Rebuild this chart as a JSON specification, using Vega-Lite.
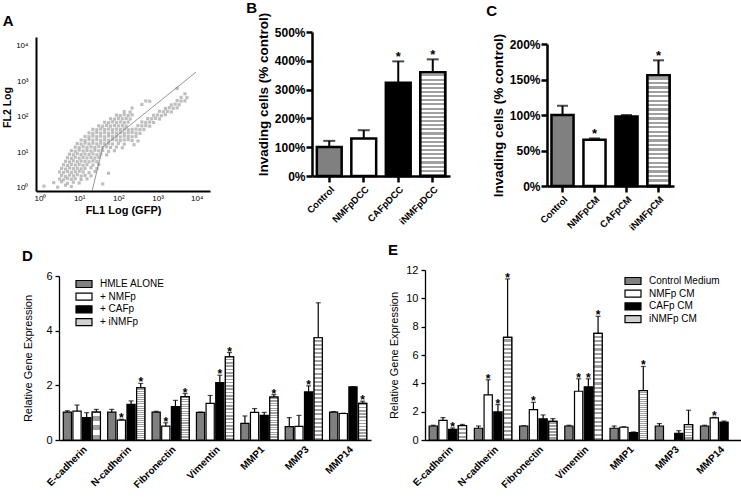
{
  "$schema": "https://vega.github.io/schema/vega-lite/v6.json",
  "background": "white",
  "padding": {"left": 2, "top": 1, "right": 0, "bottom": 0},
  "config": {
    "view": {"stroke": null},
    "font": "Liberation Sans",
    "axis": {"labelColor": "black", "titleColor": "black", "domainColor": "black", "tickColor": "black", "grid": false, "labelFlush": false, "labelOverlap": false},
    "title": {"anchor": "start", "frame": "bounds", "fontSize": 15, "fontWeight": "bold", "color": "black"}
  },
  "resolve": {"scale": {"x": "independent", "y": "independent", "xOffset": "independent", "fill": "independent"}, "legend": {"fill": "independent"}, "axis": {"x": "independent", "y": "independent"}},
  "spacing": 11,
  "vconcat": [
    {
      "spacing": 36,
      "resolve": {"scale": {"x": "independent", "y": "independent", "xOffset": "independent", "fill": "independent"}, "legend": {"fill": "independent"}, "axis": {"x": "independent", "y": "independent"}},
      "hconcat": [
        {
          "width": 174,
          "height": 159,
          "title": {"text": "A", "offset": 3},
          "layer": [
            {
              "data": {"values": [
                {"fl1":1.26,"fl2":1.12},{"fl1":2.82,"fl2":1.05},{"fl1":4.47,"fl2":1.2},{"fl1":6.31,"fl2":1.1},
                {"fl1":2.24,"fl2":1.41},{"fl1":3.55,"fl2":1.5},{"fl1":5.01,"fl2":1.35},{"fl1":7.08,"fl2":1.45},{"fl1":10,"fl2":1.38},{"fl1":39.8,"fl2":1.3},
                {"fl1":3.16,"fl2":1.78},{"fl1":3.98,"fl2":1.7},{"fl1":5.01,"fl2":1.85},{"fl1":6.31,"fl2":1.75},{"fl1":7.94,"fl2":1.82},{"fl1":11.2,"fl2":1.72},{"fl1":15.8,"fl2":1.8},
                {"fl1":3.55,"fl2":2.24},{"fl1":4.47,"fl2":2.1},{"fl1":5.62,"fl2":2.3},{"fl1":7.08,"fl2":2.2},{"fl1":8.91,"fl2":2.35},{"fl1":11.2,"fl2":2.15},{"fl1":14.1,"fl2":2.25},{"fl1":20,"fl2":2.2},
                {"fl1":3.16,"fl2":2.82},{"fl1":3.98,"fl2":2.7},{"fl1":5.01,"fl2":2.9},{"fl1":6.31,"fl2":2.75},{"fl1":7.94,"fl2":2.85},{"fl1":10,"fl2":2.95},{"fl1":12.6,"fl2":2.8},{"fl1":17.8,"fl2":2.7},{"fl1":25.1,"fl2":2.9},{"fl1":56.2,"fl2":2.6},
                {"fl1":3.55,"fl2":3.55},{"fl1":4.47,"fl2":3.4},{"fl1":5.62,"fl2":3.65},{"fl1":7.08,"fl2":3.5},{"fl1":8.91,"fl2":3.6},{"fl1":11.2,"fl2":3.45},{"fl1":14.1,"fl2":3.55},{"fl1":20,"fl2":3.7},{"fl1":28.2,"fl2":3.5},
                {"fl1":3.98,"fl2":4.47},{"fl1":5.01,"fl2":4.3},{"fl1":6.31,"fl2":4.6},{"fl1":7.94,"fl2":4.4},{"fl1":10,"fl2":4.55},{"fl1":12.6,"fl2":4.35},{"fl1":15.8,"fl2":4.5},{"fl1":22.4,"fl2":4.4},{"fl1":31.6,"fl2":4.6},
                {"fl1":4.47,"fl2":5.62},{"fl1":5.62,"fl2":5.4},{"fl1":7.08,"fl2":5.8},{"fl1":8.91,"fl2":5.5},{"fl1":11.2,"fl2":5.7},{"fl1":14.1,"fl2":5.6},{"fl1":17.8,"fl2":5.45},{"fl1":22.4,"fl2":5.75},{"fl1":28.2,"fl2":5.5},
                {"fl1":5.01,"fl2":7.08},{"fl1":6.31,"fl2":6.8},{"fl1":7.94,"fl2":7.3},{"fl1":10,"fl2":6.9},{"fl1":12.6,"fl2":7.2},{"fl1":15.8,"fl2":7.0},{"fl1":20,"fl2":7.15},{"fl1":25.1,"fl2":6.9},{"fl1":31.6,"fl2":7.25},
                {"fl1":5.62,"fl2":8.91},{"fl1":7.08,"fl2":8.6},{"fl1":8.91,"fl2":9.2},{"fl1":11.2,"fl2":8.7},{"fl1":14.1,"fl2":9.0},{"fl1":17.8,"fl2":8.8},{"fl1":22.4,"fl2":9.1},{"fl1":28.2,"fl2":8.6},{"fl1":35.5,"fl2":9.0},{"fl1":50.1,"fl2":8.5},
                {"fl1":6.31,"fl2":11.2},{"fl1":7.94,"fl2":10.8},{"fl1":10,"fl2":11.6},{"fl1":12.6,"fl2":11.0},{"fl1":15.8,"fl2":11.4},{"fl1":20,"fl2":10.9},{"fl1":25.1,"fl2":11.5},{"fl1":31.6,"fl2":11.1},{"fl1":39.8,"fl2":11.3},{"fl1":56.2,"fl2":10.7},{"fl1":79.4,"fl2":11.2},
                {"fl1":7.94,"fl2":14.1},{"fl1":10,"fl2":13.6},{"fl1":12.6,"fl2":14.5},{"fl1":15.8,"fl2":13.9},{"fl1":20,"fl2":14.3},{"fl1":25.1,"fl2":13.7},{"fl1":31.6,"fl2":14.6},{"fl1":39.8,"fl2":14.0},{"fl1":50.1,"fl2":14.4},{"fl1":63.1,"fl2":13.8},{"fl1":89.1,"fl2":14.2},{"fl1":126,"fl2":13.5},
                {"fl1":8.91,"fl2":17.8},{"fl1":11.2,"fl2":17.2},{"fl1":14.1,"fl2":18.3},{"fl1":17.8,"fl2":17.5},{"fl1":22.4,"fl2":18.1},{"fl1":28.2,"fl2":17.4},{"fl1":35.5,"fl2":18.2},{"fl1":44.7,"fl2":17.6},{"fl1":56.2,"fl2":18.0},{"fl1":70.8,"fl2":17.3},{"fl1":100,"fl2":17.9},{"fl1":141,"fl2":17.1},{"fl1":251,"fl2":16.5},
                {"fl1":11.2,"fl2":22.4},{"fl1":14.1,"fl2":21.8},{"fl1":17.8,"fl2":23.0},{"fl1":22.4,"fl2":22.1},{"fl1":28.2,"fl2":22.8},{"fl1":35.5,"fl2":21.9},{"fl1":44.7,"fl2":22.6},{"fl1":56.2,"fl2":22.0},{"fl1":70.8,"fl2":23.1},{"fl1":89.1,"fl2":22.3},{"fl1":112,"fl2":21.7},{"fl1":141,"fl2":22.5},{"fl1":178,"fl2":22.9},{"fl1":224,"fl2":21.6},{"fl1":316,"fl2":21.0},
                {"fl1":14.1,"fl2":28.2},{"fl1":17.8,"fl2":27.5},{"fl1":22.4,"fl2":28.9},{"fl1":28.2,"fl2":27.8},{"fl1":35.5,"fl2":28.6},{"fl1":44.7,"fl2":27.6},{"fl1":56.2,"fl2":29.0},{"fl1":70.8,"fl2":28.0},{"fl1":89.1,"fl2":28.5},{"fl1":112,"fl2":27.4},{"fl1":141,"fl2":28.8},{"fl1":178,"fl2":28.1},{"fl1":224,"fl2":27.7},{"fl1":282,"fl2":28.3},
                {"fl1":17.8,"fl2":35.5},{"fl1":22.4,"fl2":34.6},{"fl1":28.2,"fl2":36.3},{"fl1":35.5,"fl2":35.0},{"fl1":44.7,"fl2":36.0},{"fl1":56.2,"fl2":34.8},{"fl1":70.8,"fl2":35.8},{"fl1":89.1,"fl2":35.2},{"fl1":112,"fl2":36.2},{"fl1":141,"fl2":34.9},{"fl1":178,"fl2":35.6},{"fl1":224,"fl2":36.4},{"fl1":282,"fl2":35.1},{"fl1":355,"fl2":34.5},
                {"fl1":22.4,"fl2":44.7},{"fl1":28.2,"fl2":43.5},{"fl1":35.5,"fl2":45.8},{"fl1":44.7,"fl2":44.0},{"fl1":56.2,"fl2":45.5},{"fl1":70.8,"fl2":43.8},{"fl1":89.1,"fl2":45.2},{"fl1":112,"fl2":44.4},{"fl1":141,"fl2":45.9},{"fl1":178,"fl2":43.6},{"fl1":224,"fl2":44.9},{"fl1":282,"fl2":45.4},{"fl1":355,"fl2":44.1},{"fl1":447,"fl2":43.9},
                {"fl1":31.6,"fl2":56.2},{"fl1":39.8,"fl2":54.8},{"fl1":50.1,"fl2":57.5},{"fl1":63.1,"fl2":55.4},{"fl1":79.4,"fl2":57.0},{"fl1":100,"fl2":55.9},{"fl1":126,"fl2":56.8},{"fl1":158,"fl2":55.1},{"fl1":316,"fl2":57.2},{"fl1":398,"fl2":55.6},{"fl1":501,"fl2":56.5},{"fl1":631,"fl2":55.0},
                {"fl1":44.7,"fl2":70.8},{"fl1":56.2,"fl2":69},{"fl1":70.8,"fl2":72.5},{"fl1":89.1,"fl2":70},{"fl1":112,"fl2":72},{"fl1":141,"fl2":69.5},{"fl1":178,"fl2":71.5},{"fl1":398,"fl2":72.2},{"fl1":501,"fl2":70.3},{"fl1":631,"fl2":71.8},{"fl1":794,"fl2":69.6},
                {"fl1":63.1,"fl2":89.1},{"fl1":79.4,"fl2":87},{"fl1":100,"fl2":91},{"fl1":126,"fl2":88},{"fl1":158,"fl2":90.5},{"fl1":200,"fl2":87.5},{"fl1":562,"fl2":90},{"fl1":708,"fl2":88.5},{"fl1":891,"fl2":91.2},{"fl1":1122,"fl2":87.8},
                {"fl1":89.1,"fl2":112},{"fl1":112,"fl2":109},{"fl1":141,"fl2":115},{"fl1":178,"fl2":110},{"fl1":224,"fl2":114},{"fl1":794,"fl2":111},{"fl1":1000,"fl2":113},{"fl1":1259,"fl2":108},{"fl1":1585,"fl2":115},
                {"fl1":141,"fl2":141},{"fl1":200,"fl2":137},{"fl1":1122,"fl2":144},{"fl1":1413,"fl2":139},{"fl1":1778,"fl2":143},{"fl1":2239,"fl2":138},
                {"fl1":224,"fl2":178},{"fl1":1585,"fl2":173},{"fl1":1995,"fl2":181},{"fl1":2512,"fl2":175},{"fl1":3162,"fl2":180},
                {"fl1":398,"fl2":224},{"fl1":2239,"fl2":218},{"fl1":2818,"fl2":228},{"fl1":3548,"fl2":221},
                {"fl1":501,"fl2":282},{"fl1":631,"fl2":275},{"fl1":3162,"fl2":288},{"fl1":3981,"fl2":279},{"fl1":5012,"fl2":284},
                {"fl1":3981,"fl2":355},{"fl1":5623,"fl2":348},{"fl1":5012,"fl2":447},{"fl1":3162,"fl2":631}
              ]},
              "mark": {"type": "square", "size": 10, "color": "#b3b3b3", "opacity": 0.85},
              "encoding": {
                "x": {"field": "fl1", "type": "quantitative", "scale": {"type": "log", "domain": [0.79, 21800], "nice": false},
                  "axis": {"title": "FL1 Log  (GFP)", "titleFontSize": 11, "titleFontWeight": "bold", "titlePadding": 2, "values": [1, 10, 100, 1000, 10000], "labelExpr": "'10' + ['⁰','¹','²','³','⁴'][round(log(datum.value)/LN10)]", "labelFontSize": 8, "labelPadding": 3, "ticks": false, "domainWidth": 2}},
                "y": {"field": "fl2", "type": "quantitative", "scale": {"type": "log", "domain": [0.82, 17800], "nice": false, "range": [159, 5]},
                  "axis": {"title": "FL2 Log", "titleFontSize": 10.5, "titleFontWeight": "bold", "titlePadding": 3, "titleY": 75, "values": [1, 10, 100, 1000, 10000], "labelExpr": "'10' + ['⁰','¹','²','³','⁴'][round(log(datum.value)/LN10)]", "labelFontSize": 8, "labelPadding": 8, "ticks": false, "domainWidth": 2}}
              }
            },
            {
              "data": {"values": [{"fl1": 21.4, "fl2": 0.83}, {"fl1": 39.8, "fl2": 14.1}, {"fl1": 9550, "fl2": 1820}]},
              "mark": {"type": "line", "color": "#7a7a7a", "strokeWidth": 0.8},
              "encoding": {"x": {"field": "fl1", "type": "quantitative"}, "y": {"field": "fl2", "type": "quantitative"}}
            }
          ]
        },
        {
          "width": 138,
          "height": 144,
          "title": {"text": "B", "offset": -4, "dx": -10},
          "data": {"values": [
            {"group": "Control", "value": 101, "err": 122, "sig": ""},
            {"group": "NMFpDCC", "value": 130, "err": 159, "sig": ""},
            {"group": "CAFpDCC", "value": 324, "err": 398, "sig": "*"},
            {"group": "iNMFpDCC", "value": 360, "err": 405, "sig": "*"}
          ]},
          "encoding": {
            "x": {"field": "group", "type": "nominal", "sort": null, "scale": {"paddingInner": 0.28, "paddingOuter": 0.14},
              "axis": {"title": null, "labelAngle": -45, "labelAlign": "right", "labelBaseline": "top", "labelFontSize": 9.5, "labelFontWeight": "bold", "labelPadding": 2, "tickSize": 6, "tickWidth": 2.5, "domainWidth": 2.5}},
            "y": {"field": "value", "type": "quantitative", "scale": {"domain": [0, 500], "nice": false},
              "axis": {"title": "Invading cells (% control)", "titleFontSize": 13.5, "titleFontWeight": "bold", "titlePadding": 4, "titleY": 62, "values": [0, 100, 200, 300, 400, 500], "labelExpr": "datum.value + '%'", "labelFontSize": 12, "labelFontWeight": "bold", "labelPadding": 1, "tickSize": 6, "tickWidth": 2.5, "domainWidth": 2.5}}
          },
          "layer": [
            {"mark": {"type": "rule", "color": "black", "strokeWidth": 2}, "encoding": {"y2": {"field": "err"}}},
            {"mark": {"type": "tick", "color": "black", "size": 12, "thickness": 2}, "encoding": {"y": {"field": "err", "type": "quantitative",
              "axis": {"title": "Invading cells (% control)", "titleFontSize": 13.5, "titleFontWeight": "bold", "titlePadding": 4, "titleY": 62, "values": [0, 100, 200, 300, 400, 500], "labelExpr": "datum.value + '%'", "labelFontSize": 12, "labelFontWeight": "bold", "labelPadding": 1, "tickSize": 6, "tickWidth": 2.5, "domainWidth": 2.5}}}},
            {
              "mark": {"type": "bar", "stroke": "black", "strokeWidth": 2.5},
              "encoding": {
                "fill": {"field": "group", "type": "nominal", "legend": null, "scale": {"domain": ["Control", "NMFpDCC", "CAFpDCC", "iNMFpDCC"], "range": ["#808080", "#ffffff", "#000000", "#d0d0d0"]}}
              }
            },
            {
              "transform": [{"filter": "datum.group == 'iNMFpDCC'"}],
              "mark": {"type": "bar", "stroke": "black", "strokeWidth": 2.5, "fill": {"gradient": "linear", "x1": 0, "y1": 0, "x2": 0, "y2": 1, "stops": [
                {"offset":0,"color":"#fff"},{"offset":0.02,"color":"#fff"},{"offset":0.02,"color":"#a0a0a0"},{"offset":0.04,"color":"#a0a0a0"},
                {"offset":0.04,"color":"#fff"},{"offset":0.06,"color":"#fff"},{"offset":0.06,"color":"#a0a0a0"},{"offset":0.08,"color":"#a0a0a0"},
                {"offset":0.08,"color":"#fff"},{"offset":0.1,"color":"#fff"},{"offset":0.1,"color":"#a0a0a0"},{"offset":0.12,"color":"#a0a0a0"},
                {"offset":0.12,"color":"#fff"},{"offset":0.14,"color":"#fff"},{"offset":0.14,"color":"#a0a0a0"},{"offset":0.16,"color":"#a0a0a0"},
                {"offset":0.16,"color":"#fff"},{"offset":0.18,"color":"#fff"},{"offset":0.18,"color":"#a0a0a0"},{"offset":0.2,"color":"#a0a0a0"},
                {"offset":0.2,"color":"#fff"},{"offset":0.22,"color":"#fff"},{"offset":0.22,"color":"#a0a0a0"},{"offset":0.24,"color":"#a0a0a0"},
                {"offset":0.24,"color":"#fff"},{"offset":0.26,"color":"#fff"},{"offset":0.26,"color":"#a0a0a0"},{"offset":0.28,"color":"#a0a0a0"},
                {"offset":0.28,"color":"#fff"},{"offset":0.3,"color":"#fff"},{"offset":0.3,"color":"#a0a0a0"},{"offset":0.32,"color":"#a0a0a0"},
                {"offset":0.32,"color":"#fff"},{"offset":0.34,"color":"#fff"},{"offset":0.34,"color":"#a0a0a0"},{"offset":0.36,"color":"#a0a0a0"},
                {"offset":0.36,"color":"#fff"},{"offset":0.38,"color":"#fff"},{"offset":0.38,"color":"#a0a0a0"},{"offset":0.4,"color":"#a0a0a0"},
                {"offset":0.4,"color":"#fff"},{"offset":0.42,"color":"#fff"},{"offset":0.42,"color":"#a0a0a0"},{"offset":0.44,"color":"#a0a0a0"},
                {"offset":0.44,"color":"#fff"},{"offset":0.46,"color":"#fff"},{"offset":0.46,"color":"#a0a0a0"},{"offset":0.48,"color":"#a0a0a0"},
                {"offset":0.48,"color":"#fff"},{"offset":0.5,"color":"#fff"},{"offset":0.5,"color":"#a0a0a0"},{"offset":0.52,"color":"#a0a0a0"},
                {"offset":0.52,"color":"#fff"},{"offset":0.54,"color":"#fff"},{"offset":0.54,"color":"#a0a0a0"},{"offset":0.56,"color":"#a0a0a0"},
                {"offset":0.56,"color":"#fff"},{"offset":0.58,"color":"#fff"},{"offset":0.58,"color":"#a0a0a0"},{"offset":0.6,"color":"#a0a0a0"},
                {"offset":0.6,"color":"#fff"},{"offset":0.62,"color":"#fff"},{"offset":0.62,"color":"#a0a0a0"},{"offset":0.64,"color":"#a0a0a0"},
                {"offset":0.64,"color":"#fff"},{"offset":0.66,"color":"#fff"},{"offset":0.66,"color":"#a0a0a0"},{"offset":0.68,"color":"#a0a0a0"},
                {"offset":0.68,"color":"#fff"},{"offset":0.7,"color":"#fff"},{"offset":0.7,"color":"#a0a0a0"},{"offset":0.72,"color":"#a0a0a0"},
                {"offset":0.72,"color":"#fff"},{"offset":0.74,"color":"#fff"},{"offset":0.74,"color":"#a0a0a0"},{"offset":0.76,"color":"#a0a0a0"},
                {"offset":0.76,"color":"#fff"},{"offset":0.78,"color":"#fff"},{"offset":0.78,"color":"#a0a0a0"},{"offset":0.8,"color":"#a0a0a0"},
                {"offset":0.8,"color":"#fff"},{"offset":0.82,"color":"#fff"},{"offset":0.82,"color":"#a0a0a0"},{"offset":0.84,"color":"#a0a0a0"},
                {"offset":0.84,"color":"#fff"},{"offset":0.86,"color":"#fff"},{"offset":0.86,"color":"#a0a0a0"},{"offset":0.88,"color":"#a0a0a0"},
                {"offset":0.88,"color":"#fff"},{"offset":0.9,"color":"#fff"},{"offset":0.9,"color":"#a0a0a0"},{"offset":0.92,"color":"#a0a0a0"},
                {"offset":0.92,"color":"#fff"},{"offset":0.94,"color":"#fff"},{"offset":0.94,"color":"#a0a0a0"},{"offset":0.96,"color":"#a0a0a0"},
                {"offset":0.96,"color":"#fff"},{"offset":0.98,"color":"#fff"},{"offset":0.98,"color":"#a0a0a0"},{"offset":1,"color":"#a0a0a0"}
              ]}},
              "encoding": {}
            },
            {"mark": {"type": "text", "fontSize": 13, "fontWeight": "bold", "baseline": "alphabetic", "dy": 0}, "encoding": {"text": {"field": "sig"}, "y": {"field": "err", "type": "quantitative",
              "axis": {"title": "Invading cells (% control)", "titleFontSize": 13.5, "titleFontWeight": "bold", "titlePadding": 4, "titleY": 62, "values": [0, 100, 200, 300, 400, 500], "labelExpr": "datum.value + '%'", "labelFontSize": 12, "labelFontWeight": "bold", "labelPadding": 1, "tickSize": 6, "tickWidth": 2.5, "domainWidth": 2.5}}}}
          ]
        },
        {
          "width": 127,
          "height": 154,
          "title": {"text": "C", "offset": 13, "dx": -5},
          "data": {"values": [
            {"group": "Control", "value": 100, "err": 113, "sig": ""},
            {"group": "NMFpCM", "value": 65, "err": 67, "sig": "*"},
            {"group": "CAFpCM", "value": 98, "err": 100, "sig": ""},
            {"group": "iNMFpCM", "value": 156, "err": 177, "sig": "*"}
          ]},
          "encoding": {
            "x": {"field": "group", "type": "nominal", "sort": null, "scale": {"paddingInner": 0.31, "paddingOuter": 0.14},
              "axis": {"title": null, "labelAngle": -45, "labelAlign": "right", "labelBaseline": "top", "labelFontSize": 9.5, "labelFontWeight": "bold", "labelPadding": 2, "tickSize": 6, "tickWidth": 2.5, "domainWidth": 2.5}},
            "y": {"field": "value", "type": "quantitative", "scale": {"domain": [0, 200], "nice": false, "range": [154, 12]},
              "axis": {"title": "Invading cells (% control)", "titleFontSize": 13.5, "titleFontWeight": "bold", "titlePadding": 4, "titleY": 83, "values": [0, 50, 100, 150, 200], "labelExpr": "datum.value + '%'", "labelFontSize": 12, "labelFontWeight": "bold", "labelPadding": 1, "tickSize": 6, "tickWidth": 2.5, "domainWidth": 2.5}}
          },
          "layer": [
            {"mark": {"type": "rule", "color": "black", "strokeWidth": 2}, "encoding": {"y2": {"field": "err"}}},
            {"mark": {"type": "tick", "color": "black", "size": 11, "thickness": 2}, "encoding": {"y": {"field": "err", "type": "quantitative",
              "axis": {"title": "Invading cells (% control)", "titleFontSize": 13.5, "titleFontWeight": "bold", "titlePadding": 4, "titleY": 83, "values": [0, 50, 100, 150, 200], "labelExpr": "datum.value + '%'", "labelFontSize": 12, "labelFontWeight": "bold", "labelPadding": 1, "tickSize": 6, "tickWidth": 2.5, "domainWidth": 2.5}}}},
            {
              "mark": {"type": "bar", "stroke": "black", "strokeWidth": 2.5},
              "encoding": {
                "fill": {"field": "group", "type": "nominal", "legend": null, "scale": {"domain": ["Control", "NMFpCM", "CAFpCM", "iNMFpCM"], "range": ["#808080", "#ffffff", "#000000", "#d0d0d0"]}}
              }
            },
            {
              "transform": [{"filter": "datum.group == 'iNMFpCM'"}],
              "mark": {"type": "bar", "stroke": "black", "strokeWidth": 2.5, "fill": {"gradient": "linear", "x1": 0, "y1": 0, "x2": 0, "y2": 1, "stops": [
                {"offset":0,"color":"#fff"},{"offset":0.02,"color":"#fff"},{"offset":0.02,"color":"#a0a0a0"},{"offset":0.04,"color":"#a0a0a0"},
                {"offset":0.04,"color":"#fff"},{"offset":0.06,"color":"#fff"},{"offset":0.06,"color":"#a0a0a0"},{"offset":0.08,"color":"#a0a0a0"},
                {"offset":0.08,"color":"#fff"},{"offset":0.1,"color":"#fff"},{"offset":0.1,"color":"#a0a0a0"},{"offset":0.12,"color":"#a0a0a0"},
                {"offset":0.12,"color":"#fff"},{"offset":0.14,"color":"#fff"},{"offset":0.14,"color":"#a0a0a0"},{"offset":0.16,"color":"#a0a0a0"},
                {"offset":0.16,"color":"#fff"},{"offset":0.18,"color":"#fff"},{"offset":0.18,"color":"#a0a0a0"},{"offset":0.2,"color":"#a0a0a0"},
                {"offset":0.2,"color":"#fff"},{"offset":0.22,"color":"#fff"},{"offset":0.22,"color":"#a0a0a0"},{"offset":0.24,"color":"#a0a0a0"},
                {"offset":0.24,"color":"#fff"},{"offset":0.26,"color":"#fff"},{"offset":0.26,"color":"#a0a0a0"},{"offset":0.28,"color":"#a0a0a0"},
                {"offset":0.28,"color":"#fff"},{"offset":0.3,"color":"#fff"},{"offset":0.3,"color":"#a0a0a0"},{"offset":0.32,"color":"#a0a0a0"},
                {"offset":0.32,"color":"#fff"},{"offset":0.34,"color":"#fff"},{"offset":0.34,"color":"#a0a0a0"},{"offset":0.36,"color":"#a0a0a0"},
                {"offset":0.36,"color":"#fff"},{"offset":0.38,"color":"#fff"},{"offset":0.38,"color":"#a0a0a0"},{"offset":0.4,"color":"#a0a0a0"},
                {"offset":0.4,"color":"#fff"},{"offset":0.42,"color":"#fff"},{"offset":0.42,"color":"#a0a0a0"},{"offset":0.44,"color":"#a0a0a0"},
                {"offset":0.44,"color":"#fff"},{"offset":0.46,"color":"#fff"},{"offset":0.46,"color":"#a0a0a0"},{"offset":0.48,"color":"#a0a0a0"},
                {"offset":0.48,"color":"#fff"},{"offset":0.5,"color":"#fff"},{"offset":0.5,"color":"#a0a0a0"},{"offset":0.52,"color":"#a0a0a0"},
                {"offset":0.52,"color":"#fff"},{"offset":0.54,"color":"#fff"},{"offset":0.54,"color":"#a0a0a0"},{"offset":0.56,"color":"#a0a0a0"},
                {"offset":0.56,"color":"#fff"},{"offset":0.58,"color":"#fff"},{"offset":0.58,"color":"#a0a0a0"},{"offset":0.6,"color":"#a0a0a0"},
                {"offset":0.6,"color":"#fff"},{"offset":0.62,"color":"#fff"},{"offset":0.62,"color":"#a0a0a0"},{"offset":0.64,"color":"#a0a0a0"},
                {"offset":0.64,"color":"#fff"},{"offset":0.66,"color":"#fff"},{"offset":0.66,"color":"#a0a0a0"},{"offset":0.68,"color":"#a0a0a0"},
                {"offset":0.68,"color":"#fff"},{"offset":0.7,"color":"#fff"},{"offset":0.7,"color":"#a0a0a0"},{"offset":0.72,"color":"#a0a0a0"},
                {"offset":0.72,"color":"#fff"},{"offset":0.74,"color":"#fff"},{"offset":0.74,"color":"#a0a0a0"},{"offset":0.76,"color":"#a0a0a0"},
                {"offset":0.76,"color":"#fff"},{"offset":0.78,"color":"#fff"},{"offset":0.78,"color":"#a0a0a0"},{"offset":0.8,"color":"#a0a0a0"},
                {"offset":0.8,"color":"#fff"},{"offset":0.82,"color":"#fff"},{"offset":0.82,"color":"#a0a0a0"},{"offset":0.84,"color":"#a0a0a0"},
                {"offset":0.84,"color":"#fff"},{"offset":0.86,"color":"#fff"},{"offset":0.86,"color":"#a0a0a0"},{"offset":0.88,"color":"#a0a0a0"},
                {"offset":0.88,"color":"#fff"},{"offset":0.9,"color":"#fff"},{"offset":0.9,"color":"#a0a0a0"},{"offset":0.92,"color":"#a0a0a0"},
                {"offset":0.92,"color":"#fff"},{"offset":0.94,"color":"#fff"},{"offset":0.94,"color":"#a0a0a0"},{"offset":0.96,"color":"#a0a0a0"},
                {"offset":0.96,"color":"#fff"},{"offset":0.98,"color":"#fff"},{"offset":0.98,"color":"#a0a0a0"},{"offset":1,"color":"#a0a0a0"}
              ]}},
              "encoding": {}
            },
            {"mark": {"type": "text", "fontSize": 13, "fontWeight": "bold", "baseline": "alphabetic", "dy": 0}, "encoding": {"text": {"field": "sig"}, "y": {"field": "err", "type": "quantitative",
              "axis": {"title": "Invading cells (% control)", "titleFontSize": 13.5, "titleFontWeight": "bold", "titlePadding": 4, "titleY": 83, "values": [0, 50, 100, 150, 200], "labelExpr": "datum.value + '%'", "labelFontSize": 12, "labelFontWeight": "bold", "labelPadding": 1, "tickSize": 6, "tickWidth": 2.5, "domainWidth": 2.5}}}}
          ]
        }
      ]
    },
    {
      "spacing": 17,
      "resolve": {"scale": {"x": "independent", "y": "independent", "xOffset": "independent", "fill": "independent"}, "legend": {"fill": "independent"}, "axis": {"x": "independent", "y": "independent"}},
      "hconcat": [
        {
          "width": 335,
          "height": 170,
          "title": {"text": "D", "offset": 6},
          "data": {"values": [
            {"gene":"E-cadherin","group":"HMLE ALONE","value":1.02,"err":1.07,"sig":""},
            {"gene":"E-cadherin","group":"+ NMFp","value":1.06,"err":1.28,"sig":""},
            {"gene":"E-cadherin","group":"+ CAFp","value":0.82,"err":1.0,"sig":""},
            {"gene":"E-cadherin","group":"+ iNMFp","value":1.02,"err":1.12,"sig":""},
            {"gene":"N-cadherin","group":"HMLE ALONE","value":1.02,"err":1.12,"sig":""},
            {"gene":"N-cadherin","group":"+ NMFp","value":0.73,"err":0.76,"sig":"*"},
            {"gene":"N-cadherin","group":"+ CAFp","value":1.3,"err":1.43,"sig":""},
            {"gene":"N-cadherin","group":"+ iNMFp","value":1.91,"err":2.07,"sig":"*"},
            {"gene":"Fibronectin","group":"HMLE ALONE","value":1.02,"err":1.05,"sig":""},
            {"gene":"Fibronectin","group":"+ NMFp","value":0.51,"err":0.63,"sig":"*"},
            {"gene":"Fibronectin","group":"+ CAFp","value":1.22,"err":1.45,"sig":""},
            {"gene":"Fibronectin","group":"+ iNMFp","value":1.59,"err":1.7,"sig":"*"},
            {"gene":"Vimentin","group":"HMLE ALONE","value":1.01,"err":1.02,"sig":""},
            {"gene":"Vimentin","group":"+ NMFp","value":1.34,"err":1.63,"sig":""},
            {"gene":"Vimentin","group":"+ CAFp","value":2.1,"err":2.37,"sig":"*"},
            {"gene":"Vimentin","group":"+ iNMFp","value":3.04,"err":3.2,"sig":"*"},
            {"gene":"MMP1","group":"HMLE ALONE","value":0.61,"err":0.88,"sig":""},
            {"gene":"MMP1","group":"+ NMFp","value":1.01,"err":1.15,"sig":""},
            {"gene":"MMP1","group":"+ CAFp","value":0.9,"err":1.01,"sig":""},
            {"gene":"MMP1","group":"+ iNMFp","value":1.57,"err":1.66,"sig":"*"},
            {"gene":"MMP3","group":"HMLE ALONE","value":0.49,"err":0.82,"sig":""},
            {"gene":"MMP3","group":"+ NMFp","value":0.5,"err":0.9,"sig":""},
            {"gene":"MMP3","group":"+ CAFp","value":1.76,"err":1.98,"sig":"*"},
            {"gene":"MMP3","group":"+ iNMFp","value":3.74,"err":5.02,"sig":""},
            {"gene":"MMP14","group":"HMLE ALONE","value":1.02,"err":1.04,"sig":""},
            {"gene":"MMP14","group":"+ NMFp","value":0.97,"err":0.98,"sig":""},
            {"gene":"MMP14","group":"+ CAFp","value":1.94,"err":1.95,"sig":""},
            {"gene":"MMP14","group":"+ iNMFp","value":1.34,"err":1.42,"sig":"*"}
          ]},
          "encoding": {
            "x": {"field": "gene", "type": "nominal", "sort": null, "scale": {"range": [23, 335], "paddingInner": 0.15, "paddingOuter": 0.09},
              "axis": {"title": null, "labelAngle": -45, "labelAlign": "right", "labelBaseline": "top", "labelFontSize": 10, "labelFontWeight": "bold", "labelPadding": 4, "ticks": false, "domainWidth": 1.3}},
            "xOffset": {"field": "group", "type": "nominal", "sort": null, "scale": {"domain": ["HMLE ALONE", "+ NMFp", "+ CAFp", "+ iNMFp"], "paddingInner": 0.15, "paddingOuter": 0.03}},
            "y": {"field": "value", "type": "quantitative", "scale": {"domain": [0, 6], "nice": false, "range": [170, 6]},
              "axis": {"title": "Relative Gene Expression", "titleFontSize": 11, "titleFontWeight": "normal", "titleX": -26, "offset": -23, "values": [0, 2, 4, 6], "labelFontSize": 11, "labelPadding": 3, "tickSize": 4, "tickWidth": 1.3, "domainWidth": 1.3}}
          },
          "layer": [
            {"mark": {"type": "rule", "color": "black", "strokeWidth": 1.2}, "encoding": {"y2": {"field": "err"}}},
            {"mark": {"type": "tick", "color": "black", "size": 5, "thickness": 1.2}, "encoding": {"y": {"field": "err", "type": "quantitative",
              "axis": {"title": "Relative Gene Expression", "titleFontSize": 11, "titleFontWeight": "normal", "titleX": -26, "offset": -23, "values": [0, 2, 4, 6], "labelFontSize": 11, "labelPadding": 3, "tickSize": 4, "tickWidth": 1.3, "domainWidth": 1.3}}}},
            {
              "mark": {"type": "bar", "stroke": "black", "strokeWidth": 1.2},
              "encoding": {
                "fill": {"field": "group", "type": "nominal", "sort": null,
                  "legend": {"title": null, "orient": "none", "legendX": 42, "legendY": 8, "labelFontSize": 10, "labelOffset": 10, "labelLimit": 200, "rowPadding": 0.7, "symbolType": "M-1.6,-0.7H1.6V0.7H-1.6Z", "symbolSize": 100, "symbolStrokeColor": "black", "symbolStrokeWidth": 1.2, "labelColor": "black"},
                  "scale": {"domain": ["HMLE ALONE", "+ NMFp", "+ CAFp", "+ iNMFp"], "range": ["#808080", "#ffffff", "#000000", "#d0d0d0"]}}
              }
            },
            {
              "transform": [{"filter": "datum.group == '+ iNMFp'"}],
              "mark": {"type": "bar", "stroke": "black", "strokeWidth": 1.2, "fill": {"gradient": "linear", "x1": 0, "y1": 0, "x2": 0, "y2": 1, "stops": [
                {"offset":0,"color":"#fff"},{"offset":0.02,"color":"#fff"},{"offset":0.02,"color":"#a0a0a0"},{"offset":0.04,"color":"#a0a0a0"},
                {"offset":0.04,"color":"#fff"},{"offset":0.06,"color":"#fff"},{"offset":0.06,"color":"#a0a0a0"},{"offset":0.08,"color":"#a0a0a0"},
                {"offset":0.08,"color":"#fff"},{"offset":0.1,"color":"#fff"},{"offset":0.1,"color":"#a0a0a0"},{"offset":0.12,"color":"#a0a0a0"},
                {"offset":0.12,"color":"#fff"},{"offset":0.14,"color":"#fff"},{"offset":0.14,"color":"#a0a0a0"},{"offset":0.16,"color":"#a0a0a0"},
                {"offset":0.16,"color":"#fff"},{"offset":0.18,"color":"#fff"},{"offset":0.18,"color":"#a0a0a0"},{"offset":0.2,"color":"#a0a0a0"},
                {"offset":0.2,"color":"#fff"},{"offset":0.22,"color":"#fff"},{"offset":0.22,"color":"#a0a0a0"},{"offset":0.24,"color":"#a0a0a0"},
                {"offset":0.24,"color":"#fff"},{"offset":0.26,"color":"#fff"},{"offset":0.26,"color":"#a0a0a0"},{"offset":0.28,"color":"#a0a0a0"},
                {"offset":0.28,"color":"#fff"},{"offset":0.3,"color":"#fff"},{"offset":0.3,"color":"#a0a0a0"},{"offset":0.32,"color":"#a0a0a0"},
                {"offset":0.32,"color":"#fff"},{"offset":0.34,"color":"#fff"},{"offset":0.34,"color":"#a0a0a0"},{"offset":0.36,"color":"#a0a0a0"},
                {"offset":0.36,"color":"#fff"},{"offset":0.38,"color":"#fff"},{"offset":0.38,"color":"#a0a0a0"},{"offset":0.4,"color":"#a0a0a0"},
                {"offset":0.4,"color":"#fff"},{"offset":0.42,"color":"#fff"},{"offset":0.42,"color":"#a0a0a0"},{"offset":0.44,"color":"#a0a0a0"},
                {"offset":0.44,"color":"#fff"},{"offset":0.46,"color":"#fff"},{"offset":0.46,"color":"#a0a0a0"},{"offset":0.48,"color":"#a0a0a0"},
                {"offset":0.48,"color":"#fff"},{"offset":0.5,"color":"#fff"},{"offset":0.5,"color":"#a0a0a0"},{"offset":0.52,"color":"#a0a0a0"},
                {"offset":0.52,"color":"#fff"},{"offset":0.54,"color":"#fff"},{"offset":0.54,"color":"#a0a0a0"},{"offset":0.56,"color":"#a0a0a0"},
                {"offset":0.56,"color":"#fff"},{"offset":0.58,"color":"#fff"},{"offset":0.58,"color":"#a0a0a0"},{"offset":0.6,"color":"#a0a0a0"},
                {"offset":0.6,"color":"#fff"},{"offset":0.62,"color":"#fff"},{"offset":0.62,"color":"#a0a0a0"},{"offset":0.64,"color":"#a0a0a0"},
                {"offset":0.64,"color":"#fff"},{"offset":0.66,"color":"#fff"},{"offset":0.66,"color":"#a0a0a0"},{"offset":0.68,"color":"#a0a0a0"},
                {"offset":0.68,"color":"#fff"},{"offset":0.7,"color":"#fff"},{"offset":0.7,"color":"#a0a0a0"},{"offset":0.72,"color":"#a0a0a0"},
                {"offset":0.72,"color":"#fff"},{"offset":0.74,"color":"#fff"},{"offset":0.74,"color":"#a0a0a0"},{"offset":0.76,"color":"#a0a0a0"},
                {"offset":0.76,"color":"#fff"},{"offset":0.78,"color":"#fff"},{"offset":0.78,"color":"#a0a0a0"},{"offset":0.8,"color":"#a0a0a0"},
                {"offset":0.8,"color":"#fff"},{"offset":0.82,"color":"#fff"},{"offset":0.82,"color":"#a0a0a0"},{"offset":0.84,"color":"#a0a0a0"},
                {"offset":0.84,"color":"#fff"},{"offset":0.86,"color":"#fff"},{"offset":0.86,"color":"#a0a0a0"},{"offset":0.88,"color":"#a0a0a0"},
                {"offset":0.88,"color":"#fff"},{"offset":0.9,"color":"#fff"},{"offset":0.9,"color":"#a0a0a0"},{"offset":0.92,"color":"#a0a0a0"},
                {"offset":0.92,"color":"#fff"},{"offset":0.94,"color":"#fff"},{"offset":0.94,"color":"#a0a0a0"},{"offset":0.96,"color":"#a0a0a0"},
                {"offset":0.96,"color":"#fff"},{"offset":0.98,"color":"#fff"},{"offset":0.98,"color":"#a0a0a0"},{"offset":1,"color":"#a0a0a0"}
              ]}},
              "encoding": {}
            },
            {"mark": {"type": "text", "fontSize": 12, "fontWeight": "bold", "baseline": "alphabetic", "dy": 3}, "encoding": {"text": {"field": "sig"}, "y": {"field": "err", "type": "quantitative",
              "axis": {"title": "Relative Gene Expression", "titleFontSize": 11, "titleFontWeight": "normal", "titleX": -26, "offset": -23, "values": [0, 2, 4, 6], "labelFontSize": 11, "labelPadding": 3, "tickSize": 4, "tickWidth": 1.3, "domainWidth": 1.3}}}}
          ]
        },
        {
          "width": 317,
          "height": 170,
          "title": {"text": "E", "offset": 6},
          "data": {"values": [
            {"gene":"E-cadherin","group":"Control Medium","value":0.99,"err":1.04,"sig":""},
            {"gene":"E-cadherin","group":"NMFp CM","value":1.39,"err":1.58,"sig":""},
            {"gene":"E-cadherin","group":"CAFp CM","value":0.75,"err":0.85,"sig":"*"},
            {"gene":"E-cadherin","group":"iNMFp CM","value":1.01,"err":1.1,"sig":""},
            {"gene":"N-cadherin","group":"Control Medium","value":0.83,"err":0.99,"sig":""},
            {"gene":"N-cadherin","group":"NMFp CM","value":3.18,"err":4.25,"sig":"*"},
            {"gene":"N-cadherin","group":"CAFp CM","value":1.98,"err":2.5,"sig":"*"},
            {"gene":"N-cadherin","group":"iNMFp CM","value":7.24,"err":11.37,"sig":"*"},
            {"gene":"Fibronectin","group":"Control Medium","value":0.99,"err":1.01,"sig":""},
            {"gene":"Fibronectin","group":"NMFp CM","value":2.15,"err":2.66,"sig":"*"},
            {"gene":"Fibronectin","group":"CAFp CM","value":1.49,"err":1.77,"sig":""},
            {"gene":"Fibronectin","group":"iNMFp CM","value":1.32,"err":1.51,"sig":""},
            {"gene":"Vimentin","group":"Control Medium","value":0.99,"err":1.04,"sig":""},
            {"gene":"Vimentin","group":"NMFp CM","value":3.44,"err":4.32,"sig":"*"},
            {"gene":"Vimentin","group":"CAFp CM","value":3.75,"err":4.32,"sig":"*"},
            {"gene":"Vimentin","group":"iNMFp CM","value":7.52,"err":8.73,"sig":"*"},
            {"gene":"MMP1","group":"Control Medium","value":0.83,"err":0.99,"sig":""},
            {"gene":"MMP1","group":"NMFp CM","value":0.9,"err":0.94,"sig":""},
            {"gene":"MMP1","group":"CAFp CM","value":0.52,"err":0.57,"sig":""},
            {"gene":"MMP1","group":"iNMFp CM","value":3.49,"err":5.19,"sig":"*"},
            {"gene":"MMP3","group":"Control Medium","value":0.99,"err":1.16,"sig":""},
            {"gene":"MMP3","group":"CAFp CM","value":0.47,"err":0.66,"sig":""},
            {"gene":"MMP3","group":"iNMFp CM","value":1.08,"err":2.1,"sig":""},
            {"gene":"MMP14","group":"Control Medium","value":0.99,"err":1.04,"sig":""},
            {"gene":"MMP14","group":"NMFp CM","value":1.56,"err":1.6,"sig":"*"},
            {"gene":"MMP14","group":"CAFp CM","value":1.27,"err":1.34,"sig":""}
          ]},
          "encoding": {
            "x": {"field": "gene", "type": "nominal", "sort": null, "scale": {"paddingInner": 0.16, "paddingOuter": 0.085},
              "axis": {"title": null, "labelAngle": -45, "labelAlign": "right", "labelBaseline": "top", "labelFontSize": 10, "labelFontWeight": "bold", "labelPadding": 4, "ticks": false, "domainWidth": 1.3}},
            "xOffset": {"field": "group", "type": "nominal", "sort": null, "scale": {"domain": ["Control Medium", "NMFp CM", "CAFp CM", "iNMFp CM"], "paddingInner": 0.15, "paddingOuter": 0.03}},
            "y": {"field": "value", "type": "quantitative", "scale": {"domain": [0, 12], "nice": false},
              "axis": {"title": "Relative Gene Expression", "titleFontSize": 11, "titleFontWeight": "normal", "titleX": -26, "values": [0, 2, 4, 6, 8, 10, 12], "labelFontSize": 11, "labelPadding": 3, "tickSize": 4, "tickWidth": 1.3, "domainWidth": 1.3}}
          },
          "layer": [
            {"mark": {"type": "rule", "color": "black", "strokeWidth": 1.2}, "encoding": {"y2": {"field": "err"}}},
            {"mark": {"type": "tick", "color": "black", "size": 5, "thickness": 1.2}, "encoding": {"y": {"field": "err", "type": "quantitative",
              "axis": {"title": "Relative Gene Expression", "titleFontSize": 11, "titleFontWeight": "normal", "titleX": -26, "values": [0, 2, 4, 6, 8, 10, 12], "labelFontSize": 11, "labelPadding": 3, "tickSize": 4, "tickWidth": 1.3, "domainWidth": 1.3}}}},
            {
              "mark": {"type": "bar", "stroke": "black", "strokeWidth": 1.2},
              "encoding": {
                "fill": {"field": "group", "type": "nominal", "sort": null,
                  "legend": {"title": null, "orient": "none", "legendX": 202, "legendY": 5, "labelFontSize": 10, "labelOffset": 10, "labelLimit": 200, "rowPadding": 0.7, "symbolType": "M-1.6,-0.7H1.6V0.7H-1.6Z", "symbolSize": 100, "symbolStrokeColor": "black", "symbolStrokeWidth": 1.2, "labelColor": "black"},
                  "scale": {"domain": ["Control Medium", "NMFp CM", "CAFp CM", "iNMFp CM"], "range": ["#808080", "#ffffff", "#000000", "#d0d0d0"]}}
              }
            },
            {
              "transform": [{"filter": "datum.group == 'iNMFp CM'"}],
              "mark": {"type": "bar", "stroke": "black", "strokeWidth": 1.2, "fill": {"gradient": "linear", "x1": 0, "y1": 0, "x2": 0, "y2": 1, "stops": [
                {"offset":0,"color":"#fff"},{"offset":0.02,"color":"#fff"},{"offset":0.02,"color":"#a0a0a0"},{"offset":0.04,"color":"#a0a0a0"},
                {"offset":0.04,"color":"#fff"},{"offset":0.06,"color":"#fff"},{"offset":0.06,"color":"#a0a0a0"},{"offset":0.08,"color":"#a0a0a0"},
                {"offset":0.08,"color":"#fff"},{"offset":0.1,"color":"#fff"},{"offset":0.1,"color":"#a0a0a0"},{"offset":0.12,"color":"#a0a0a0"},
                {"offset":0.12,"color":"#fff"},{"offset":0.14,"color":"#fff"},{"offset":0.14,"color":"#a0a0a0"},{"offset":0.16,"color":"#a0a0a0"},
                {"offset":0.16,"color":"#fff"},{"offset":0.18,"color":"#fff"},{"offset":0.18,"color":"#a0a0a0"},{"offset":0.2,"color":"#a0a0a0"},
                {"offset":0.2,"color":"#fff"},{"offset":0.22,"color":"#fff"},{"offset":0.22,"color":"#a0a0a0"},{"offset":0.24,"color":"#a0a0a0"},
                {"offset":0.24,"color":"#fff"},{"offset":0.26,"color":"#fff"},{"offset":0.26,"color":"#a0a0a0"},{"offset":0.28,"color":"#a0a0a0"},
                {"offset":0.28,"color":"#fff"},{"offset":0.3,"color":"#fff"},{"offset":0.3,"color":"#a0a0a0"},{"offset":0.32,"color":"#a0a0a0"},
                {"offset":0.32,"color":"#fff"},{"offset":0.34,"color":"#fff"},{"offset":0.34,"color":"#a0a0a0"},{"offset":0.36,"color":"#a0a0a0"},
                {"offset":0.36,"color":"#fff"},{"offset":0.38,"color":"#fff"},{"offset":0.38,"color":"#a0a0a0"},{"offset":0.4,"color":"#a0a0a0"},
                {"offset":0.4,"color":"#fff"},{"offset":0.42,"color":"#fff"},{"offset":0.42,"color":"#a0a0a0"},{"offset":0.44,"color":"#a0a0a0"},
                {"offset":0.44,"color":"#fff"},{"offset":0.46,"color":"#fff"},{"offset":0.46,"color":"#a0a0a0"},{"offset":0.48,"color":"#a0a0a0"},
                {"offset":0.48,"color":"#fff"},{"offset":0.5,"color":"#fff"},{"offset":0.5,"color":"#a0a0a0"},{"offset":0.52,"color":"#a0a0a0"},
                {"offset":0.52,"color":"#fff"},{"offset":0.54,"color":"#fff"},{"offset":0.54,"color":"#a0a0a0"},{"offset":0.56,"color":"#a0a0a0"},
                {"offset":0.56,"color":"#fff"},{"offset":0.58,"color":"#fff"},{"offset":0.58,"color":"#a0a0a0"},{"offset":0.6,"color":"#a0a0a0"},
                {"offset":0.6,"color":"#fff"},{"offset":0.62,"color":"#fff"},{"offset":0.62,"color":"#a0a0a0"},{"offset":0.64,"color":"#a0a0a0"},
                {"offset":0.64,"color":"#fff"},{"offset":0.66,"color":"#fff"},{"offset":0.66,"color":"#a0a0a0"},{"offset":0.68,"color":"#a0a0a0"},
                {"offset":0.68,"color":"#fff"},{"offset":0.7,"color":"#fff"},{"offset":0.7,"color":"#a0a0a0"},{"offset":0.72,"color":"#a0a0a0"},
                {"offset":0.72,"color":"#fff"},{"offset":0.74,"color":"#fff"},{"offset":0.74,"color":"#a0a0a0"},{"offset":0.76,"color":"#a0a0a0"},
                {"offset":0.76,"color":"#fff"},{"offset":0.78,"color":"#fff"},{"offset":0.78,"color":"#a0a0a0"},{"offset":0.8,"color":"#a0a0a0"},
                {"offset":0.8,"color":"#fff"},{"offset":0.82,"color":"#fff"},{"offset":0.82,"color":"#a0a0a0"},{"offset":0.84,"color":"#a0a0a0"},
                {"offset":0.84,"color":"#fff"},{"offset":0.86,"color":"#fff"},{"offset":0.86,"color":"#a0a0a0"},{"offset":0.88,"color":"#a0a0a0"},
                {"offset":0.88,"color":"#fff"},{"offset":0.9,"color":"#fff"},{"offset":0.9,"color":"#a0a0a0"},{"offset":0.92,"color":"#a0a0a0"},
                {"offset":0.92,"color":"#fff"},{"offset":0.94,"color":"#fff"},{"offset":0.94,"color":"#a0a0a0"},{"offset":0.96,"color":"#a0a0a0"},
                {"offset":0.96,"color":"#fff"},{"offset":0.98,"color":"#fff"},{"offset":0.98,"color":"#a0a0a0"},{"offset":1,"color":"#a0a0a0"}
              ]}},
              "encoding": {}
            },
            {"mark": {"type": "text", "fontSize": 12, "fontWeight": "bold", "baseline": "alphabetic", "dy": 3}, "encoding": {"text": {"field": "sig"}, "y": {"field": "err", "type": "quantitative",
              "axis": {"title": "Relative Gene Expression", "titleFontSize": 11, "titleFontWeight": "normal", "titleX": -26, "values": [0, 2, 4, 6, 8, 10, 12], "labelFontSize": 11, "labelPadding": 3, "tickSize": 4, "tickWidth": 1.3, "domainWidth": 1.3}}}}
          ]
        }
      ]
    }
  ]
}
